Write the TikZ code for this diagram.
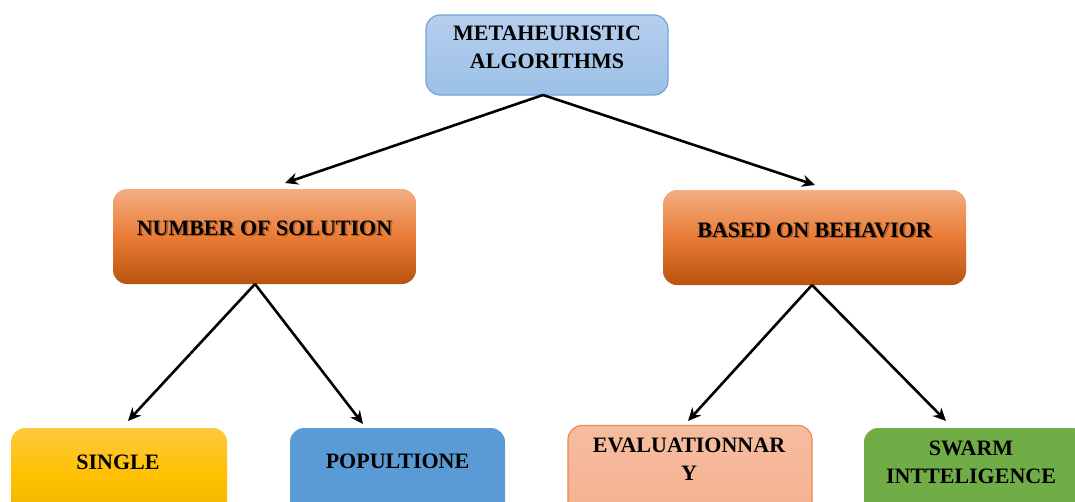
\documentclass[tikz,border=0pt]{standalone}
\usepackage{fontspec}
\setmainfont{Liberation Serif}
\usetikzlibrary{arrows.meta}
\definecolor{bluetop}{HTML}{B6CEEE}
\definecolor{bluebot}{HTML}{9BC1E6}
\definecolor{blueedge}{HTML}{6FA6DC}
\definecolor{ortop}{HTML}{F3AE82}
\definecolor{ormid}{HTML}{E97B36}
\definecolor{orbot}{HTML}{B9530F}
\definecolor{yeltop}{HTML}{FFC93F}
\definecolor{yelmid}{HTML}{FFC000}
\definecolor{yelbot}{HTML}{EBB300}
\definecolor{popblue}{HTML}{5B9BD5}
\definecolor{salmon}{HTML}{F5B18F}
\definecolor{salmontop}{HTML}{F6BCA0}
\definecolor{salmonedge}{HTML}{EE8A4C}
\definecolor{grn}{HTML}{70AD47}
\definecolor{shade}{HTML}{7A3A10}
\tikzset{
  box/.style={rounded corners=14pt, inner sep=0pt},
  lbl/.style={font=\fontsize{22}{28}\selectfont\bfseries, align=center, text=black},
  lblshadow/.style={lbl, text=shade, opacity=0.6},
  arr/.style={line width=2.6pt, -{Stealth[length=13pt,width=12pt]}},
}
\begin{document}
\begin{tikzpicture}[x=1pt,y=-1pt]
\useasboundingbox (0,0) rectangle (1075,501);
\clip (0,0) rectangle (1075,501);
% root
\node[box, draw=blueedge, line width=1.2pt, top color=bluetop, bottom color=bluebot,
  minimum width=242pt, minimum height=80pt] (root) at (547,55) {};
\node[lbl] (rootT) at (547,47) {METAHEURISTIC\\ALGORITHMS};
% second level
\node[box, top color=ortop, bottom color=orbot, middle color=ormid,
  minimum width=303pt, minimum height=95pt] (num) at (264.5,236.5) {};
\node[lblshadow] (numS) at (266,229.5) {NUMBER OF SOLUTION};
\node[lbl] (numT) at (264.5,228) {NUMBER OF SOLUTION};
\node[box, top color=ortop, bottom color=orbot, middle color=ormid,
  minimum width=303pt, minimum height=95pt] (beh) at (814.5,237.5) {};
\node[lblshadow] (behS) at (816,231.5) {BASED ON BEHAVIOR};
\node[lbl] (behT) at (814.5,230) {BASED ON BEHAVIOR};
% leaves
\node[box, top color=yeltop, bottom color=yelbot, middle color=yelmid,
  minimum width=216pt, minimum height=95pt] (sgl) at (119,475.5) {};
\node[lbl] (sglT) at (118,462) {SINGLE};
\node[box, fill=popblue,
  minimum width=215pt, minimum height=95pt] (pop) at (397.5,475.5) {};
\node[lbl] (popT) at (397.5,461) {POPULTIONE};
\node[box, draw=salmonedge, line width=1.2pt, top color=salmontop, bottom color=salmon,
  minimum width=244pt, minimum height=95pt] (evo) at (690,473) {};
\node[lbl] (evoT) at (689,459) {EVALUATIONNAR\\Y};
\node[box, fill=grn,
  minimum width=222pt, minimum height=95pt] (swm) at (975,475.5) {};
\node[lbl] (swmT) at (971,462) {SWARM\\INTTELIGENCE};
% arrow ends
\coordinate (a1) at (285,183);
\coordinate (a2) at (815,185);
\coordinate (b1) at (128,421);
\coordinate (b2) at (363,424);
\coordinate (c1) at (688,421);
\coordinate (c2) at (946,421);
\coordinate (rs) at (543,95);
\coordinate (ns) at (255,284);
\coordinate (bs) at (812,285);
\draw[arr] (rs) -- (a1);
\draw[arr] (rs) -- (a2);
\draw[arr] (ns) -- (b1);
\draw[arr] (ns) -- (b2);
\draw[arr] (bs) -- (c1);
\draw[arr] (bs) -- (c2);
\end{tikzpicture}
\end{document}
